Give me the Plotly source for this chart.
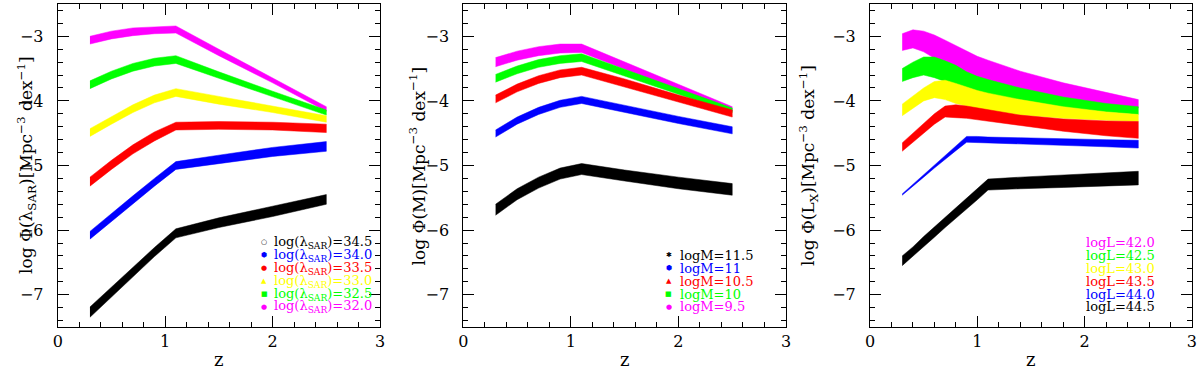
import plotly.graph_objects as go

# redshift grids
z_12 = [0.3, 0.5, 0.7, 0.9, 1.1, 1.5, 2.0, 2.5]
z_3 = [0.3, 0.4, 0.5, 0.6, 0.7, 0.8, 0.9, 1.0, 1.1, 1.4, 1.8, 2.2, 2.5]

colors = ['#ff00ff', '#00ff00', '#ffff00', '#ff0000', '#0000ff', '#000000']

# panel 1: log(lambda_SAR) = 32.0 ... 34.5  (upper / lower edges of each band)
sar_hi = [
    [-3.00, -2.92, -2.87, -2.85, -2.84, -3.20, -3.64, -4.09],
    [-3.69, -3.54, -3.42, -3.34, -3.30, -3.55, -3.85, -4.14],
    [-4.43, -4.24, -4.06, -3.91, -3.81, -3.93, -4.08, -4.23],
    [-5.18, -4.92, -4.68, -4.48, -4.33, -4.32, -4.33, -4.36],
    [-6.02, -5.74, -5.47, -5.20, -4.94, -4.84, -4.72, -4.63],
    [-7.19, -6.88, -6.58, -6.27, -5.98, -5.81, -5.63, -5.45],
]
sar_lo = [
    [-3.12, -3.04, -2.99, -2.96, -2.95, -3.30, -3.72, -4.16],
    [-3.81, -3.66, -3.54, -3.46, -3.42, -3.65, -3.94, -4.22],
    [-4.55, -4.36, -4.18, -4.03, -3.93, -4.05, -4.18, -4.33],
    [-5.32, -5.06, -4.82, -4.62, -4.45, -4.44, -4.45, -4.49],
    [-6.14, -5.86, -5.59, -5.32, -5.06, -4.97, -4.86, -4.78],
    [-7.35, -7.03, -6.72, -6.41, -6.12, -5.96, -5.79, -5.60],
]

# panel 2: logM = 9.5 ... 11.5 (magenta, green, red, blue, black)
m_colors = ['#ff00ff', '#00ff00', '#ff0000', '#0000ff', '#000000']
m_hi = [
    [-3.33, -3.23, -3.16, -3.12, -3.12, -3.40, -3.75, -4.09],
    [-3.59, -3.46, -3.36, -3.30, -3.27, -3.51, -3.81, -4.11],
    [-3.91, -3.74, -3.61, -3.52, -3.48, -3.66, -3.91, -4.14],
    [-4.45, -4.25, -4.10, -3.99, -3.93, -4.07, -4.24, -4.40],
    [-5.60, -5.36, -5.18, -5.04, -4.97, -5.07, -5.18, -5.28],
]
m_lo = [
    [-3.47, -3.37, -3.30, -3.26, -3.25, -3.51, -3.84, -4.16],
    [-3.71, -3.58, -3.48, -3.42, -3.39, -3.62, -3.90, -4.18],
    [-4.03, -3.86, -3.73, -3.64, -3.60, -3.78, -4.02, -4.25],
    [-4.56, -4.36, -4.21, -4.10, -4.04, -4.18, -4.35, -4.51],
    [-5.77, -5.53, -5.35, -5.21, -5.14, -5.24, -5.36, -5.46],
]

# panel 3: logL = 42.0 ... 44.5
l_hi = [
    [-2.96, -2.90, -2.92, -2.98, -3.06, -3.14, -3.23, -3.31, -3.37, -3.54, -3.72, -3.87, -3.98],
    [-3.50, -3.40, -3.32, -3.32, -3.38, -3.45, -3.55, -3.62, -3.67, -3.80, -3.94, -4.04, -4.09],
    [-4.05, -3.92, -3.80, -3.70, -3.68, -3.73, -3.79, -3.84, -3.88, -3.98, -4.09, -4.17, -4.21],
    [-4.65, -4.50, -4.35, -4.20, -4.08, -4.06, -4.08, -4.11, -4.14, -4.22, -4.28, -4.31, -4.32],
    [-5.44, -5.29, -5.14, -4.99, -4.84, -4.69, -4.55, -4.55, -4.56, -4.57, -4.59, -4.60, -4.61],
    [-6.40, -6.26, -6.10, -5.95, -5.80, -5.65, -5.50, -5.35, -5.21, -5.18, -5.15, -5.11, -5.09],
]
l_lo = [
    [-3.22, -3.18, -3.24, -3.34, -3.42, -3.50, -3.58, -3.64, -3.70, -3.82, -3.96, -4.06, -4.11],
    [-3.70, -3.64, -3.60, -3.64, -3.70, -3.76, -3.82, -3.86, -3.90, -3.99, -4.10, -4.17, -4.21],
    [-4.23, -4.11, -4.00, -3.95, -3.98, -4.04, -4.08, -4.12, -4.15, -4.22, -4.27, -4.30, -4.32],
    [-4.78, -4.64, -4.50, -4.36, -4.25, -4.26, -4.27, -4.29, -4.31, -4.38, -4.47, -4.54, -4.58],
    [-5.46, -5.32, -5.18, -5.04, -4.90, -4.77, -4.64, -4.64, -4.65, -4.67, -4.69, -4.71, -4.73],
    [-6.55, -6.41, -6.26, -6.11, -5.96, -5.82, -5.67, -5.53, -5.38, -5.36, -5.34, -5.32, -5.30],
]

# legend texts, top to bottom
sar_labels = ['34.5', '34.0', '33.5', '33.0', '32.5', '32.0']
sar_label_colors = ['#000000', '#0000ff', '#ff0000', '#ffff00', '#00ff00', '#ff00ff']
sar_symbols = ['○', '⬢', '●', '▲', '■', '●']
m_labels = ['11.5', '11', '10.5', '10', '9.5']
m_label_colors = ['#000000', '#0000ff', '#ff0000', '#00ff00', '#ff00ff']
m_symbols = ['✱', '⬢', '▲', '■', '●']
l_labels = ['42.0', '42.5', '43.0', '43.5', '44.0', '44.5']
l_label_colors = ['#ff00ff', '#00ff00', '#ffff00', '#ff0000', '#0000ff', '#000000']

FONT = 'DejaVu Serif'

fig = go.Figure()


def add_band(z, hi, lo, color, ax):
    fig.add_trace(go.Scatter(
        x=z + z[::-1], y=hi + lo[::-1], fill='toself', fillcolor=color,
        mode='lines', line=dict(color=color, width=0.5),
        xaxis='x' + ax, yaxis='y' + ax, showlegend=False, hoverinfo='skip'))


for hi, lo, c in zip(sar_hi, sar_lo, colors):
    add_band(z_12, hi, lo, c, '')
for hi, lo, c in zip(m_hi, m_lo, m_colors):
    add_band(z_12, hi, lo, c, '2')
for hi, lo, c in zip(l_hi, l_lo, colors):
    add_band(z_3, hi, lo, c, '3')

axis_common = dict(
    showgrid=False, zeroline=False, showline=True, linecolor='black', linewidth=1,
    mirror='ticks', ticks='inside', ticklen=11, tickcolor='black', automargin=False,
    tickfont=dict(family=FONT, size=16, color='black'),
)
xcommon = dict(axis_common, range=[0, 3], dtick=1, tick0=0,
               minor=dict(ticks='inside', ticklen=5, dtick=0.2, tick0=0, tickcolor='black'))
ycommon = dict(axis_common, range=[-7.5, -2.5], dtick=1, tick0=-7, ticklabelstandoff=10,
               minor=dict(ticks='inside', ticklen=5, dtick=0.2, tick0=-7, tickcolor='black'))

domains = [[0.0481, 0.3167], [0.3861, 0.655], [0.725, 0.9933]]
layout = dict(
    width=1200, height=373, plot_bgcolor='white', paper_bgcolor='white',
    margin=dict(l=0, r=0, t=4, b=46, autoexpand=False), showlegend=False,
)
for i, d in enumerate(domains):
    s = '' if i == 0 else str(i + 1)
    layout['xaxis' + s] = dict(xcommon, domain=d, anchor='y' + s)
    layout['yaxis' + s] = dict(ycommon, anchor='x' + s)
fig.update_layout(**layout)

ann = []
ytitles = [
    'log \u03a6(\u03bb<sub>SAR</sub>)[Mpc<sup>\u22123</sup> dex<sup>\u22121</sup>]',
    'log \u03a6(M)[Mpc<sup>\u22123</sup> dex<sup>\u22121</sup>]',
    'log \u03a6(L<sub>X</sub>)[Mpc<sup>\u22123</sup> dex<sup>\u22121</sup>]',
]
ytitle_x = [12, 417, 823]
for i in range(3):
    s = '' if i == 0 else str(i + 1)
    ann.append(dict(text=ytitles[i], xref='paper', yref='paper', x=ytitle_x[i] / 1200, y=0.5,
                    textangle=-90, showarrow=False, font=dict(family=FONT, size=17, color='black')))
    ann.append(dict(text='z', xref='x' + s + ' domain', yref='paper', x=0.5, y=-0.102,
                    yanchor='middle', showarrow=False, font=dict(family=FONT, size=18, color='black')))

# legends
lf = dict(family=FONT, size=13)
for k, (lab, c, sym) in enumerate(zip(sar_labels, sar_label_colors, sar_symbols)):
    yy = -6.19 - 0.2 * k
    ann.append(dict(text='log(\u03bb<sub>SAR</sub>)=' + lab, x=1.99, y=yy, xref='x', yref='y',
                    xanchor='left', showarrow=False, font=dict(lf, color=c)))
    ann.append(dict(text=sym, x=1.92, y=yy, xref='x', yref='y', showarrow=False,
                    font=dict(family=FONT, size=7, color=c)))
for k, (lab, c, sym) in enumerate(zip(m_labels, m_label_colors, m_symbols)):
    yy = -6.39 - 0.2 * k
    ann.append(dict(text='logM=' + lab, x=2.0, y=yy, xref='x2', yref='y2',
                    xanchor='left', showarrow=False, font=dict(lf, color=c)))
    ann.append(dict(text=sym, x=1.91, y=yy, xref='x2', yref='y2', showarrow=False,
                    font=dict(family=FONT, size=7, color=c)))
for k, (lab, c) in enumerate(zip(l_labels, l_label_colors)):
    yy = -6.19 - 0.2 * k
    ann.append(dict(text='logL=' + lab, x=1.99, y=yy, xref='x3', yref='y3',
                    xanchor='left', showarrow=False, font=dict(lf, color=c)))

fig.update_layout(annotations=ann)
# the page body has a default 8px margin; drop it so the figure sits at the window corner
fig.write_html('out.html', config={'displayModeBar': False},
               post_script="document.body.style.margin='0';")
